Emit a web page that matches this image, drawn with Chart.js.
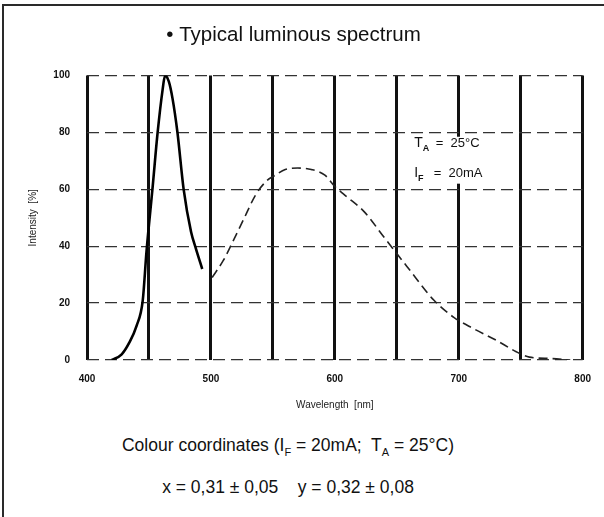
<!DOCTYPE html>
<html>
<head>
<meta charset="utf-8">
<script src="https://cdn.jsdelivr.net/npm/chart.js@4.4.1/dist/chart.umd.min.js"></script>
<style>
  body { margin: 0; background: #fff; font-family: "Liberation Sans", Arial, sans-serif; }
  #page { position: relative; width: 604px; height: 517px; overflow: hidden; background: #fff; }
  #frame { position: absolute; left: 2px; top: 4px; right: -4px; bottom: -4px;
           border-top: 2px solid #2a2a2a; border-left: 2px solid #2a2a2a; }
  #wrap { position: absolute; left: 0; top: 0; width: 604px; height: 420px; }
  .note { position: absolute; left: 0; width: 576px; text-align: center; color: #111;
          font-size: 17.5px; line-height: 20px; white-space: pre; }
  .note sub { font-size: 11px; line-height: 0; }
</style>
</head>
<body>
<div id="page">
  <div id="frame"></div>
  <div id="wrap"><canvas id="spectrumChart"></canvas></div>
  <div class="note" style="top:435px">Colour coordinates (I<sub>F</sub> = 20mA;  T<sub>A</sub> = 25°C)</div>
  <div class="note" style="top:477px">x = 0,31 ± 0,05    y = 0,32 ± 0,08</div>
</div>
<script>
// blue chip peak (solid part)
const blueWavelength = [420, 428, 434, 440, 445, 448, 453, 457, 461, 463, 466, 469, 473, 478, 484, 488, 493];
const blueIntensity  = [0, 2, 6, 12, 21, 38, 61, 80, 95, 100, 98, 92, 80, 60, 45, 39, 32];
// phosphor emission (dashed part)
const phosWavelength = [501, 510, 517, 527, 536, 545, 552, 560, 570, 581, 592, 600, 608, 624, 640, 658, 680, 696, 712, 730, 746, 757, 775, 790];
const phosIntensity  = [29, 35, 41, 50, 58, 63, 65, 67, 67.5, 67, 65, 61, 58, 52, 43, 33, 21, 15, 11, 7, 3, 1, 0.5, 0];
const xTicks = [400, 500, 600, 700, 800];
const yTicks = [0, 20, 40, 60, 80, 100];

const toPoints = (xs, ys) => xs.map((x, i) => ({ x: x, y: ys[i] }));

const conditionsBox = {
  id: 'conditionsBox',
  afterDraw(chart) {
    const { ctx, scales: { x, y } } = chart;
    const left = x.getPixelForValue(658), right = x.getPixelForValue(732);
    const top = y.getPixelForValue(78.5), bottom = y.getPixelForValue(62);
    ctx.save();
    ctx.fillStyle = '#fff';
    ctx.fillRect(left, top, right - left, bottom - top);
    ctx.fillStyle = '#111';
    const tx = x.getPixelForValue(664);
    const rows = [['T', 'A', ' =  25°C', 75], ['I', 'F', '  =  20mA', 64.5]];
    rows.forEach(([main, sub, rest, v]) => {
      const by = y.getPixelForValue(v);
      ctx.font = '14px "Liberation Sans", Arial, sans-serif';
      ctx.fillText(main, tx, by);
      const w = ctx.measureText(main).width;
      ctx.font = 'bold 9px "Liberation Sans", Arial, sans-serif';
      ctx.fillText(sub, tx + w, by + 4);
      const ws = ctx.measureText(sub).width;
      ctx.font = '13px "Liberation Sans", Arial, sans-serif';
      ctx.fillText(rest, tx + w + ws + 3, by);
    });
    ctx.restore();
  }
};

const ctx = document.getElementById('spectrumChart').getContext('2d');
new Chart(ctx, {
  type: 'line',
  data: {
    datasets: [{
      label: 'Blue peak',
      data: toPoints(blueWavelength, blueIntensity),
      borderColor: '#000',
      borderWidth: 2.6,
      pointRadius: 0,
      tension: 0.4,
      cubicInterpolationMode: 'monotone'
    }, {
      label: 'Phosphor',
      data: toPoints(phosWavelength, phosIntensity),
      borderColor: '#222',
      borderWidth: 1.6,
      borderDash: [9, 5],
      pointRadius: 0,
      tension: 0.4,
      cubicInterpolationMode: 'monotone'
    }]
  },
  options: {
    responsive: true,
    maintainAspectRatio: false,
    animation: false,
    layout: { padding: { left: 0, right: 17, top: 0, bottom: 0 } },
    scales: {
      x: {
        type: 'linear',
        min: 400,
        max: 800,
        afterFit: (s) => { s.height = 60; },
        ticks: {
          stepSize: 50,
          autoSkip: false,
          maxRotation: 0,
          padding: 13,
          color: '#111',
          font: { family: '"Liberation Sans", Arial, sans-serif', size: 10, weight: 'bold' },
          callback: (v) => xTicks.includes(v) ? String(v) : ''
        },
        grid: { color: '#111', lineWidth: 3, drawTicks: false },
        border: { display: false },
        title: {
          display: true,
          text: 'Wavelength  [nm]',
          color: '#222',
          font: { family: '"Liberation Sans", Arial, sans-serif', size: 10 },
          padding: { top: 4, bottom: 9 }
        }
      },
      y: {
        min: 0,
        max: 100,
        afterFit: (s) => { s.width = 87; },
        afterBuildTicks: (s) => { s.ticks = yTicks.map(v => ({ value: v })); },
        ticks: {
          padding: 17,
          color: '#111',
          font: { family: '"Liberation Sans", Arial, sans-serif', size: 10, weight: 'bold' }
        },
        grid: { color: '#333', lineWidth: 1.3, drawTicks: false },
        border: { display: false, dash: [12, 6] },
        title: {
          display: true,
          text: 'Intensity  [%]',
          color: '#222',
          font: { family: '"Liberation Sans", Arial, sans-serif', size: 10 },
          padding: { top: 27, bottom: 4 }
        }
      }
    },
    plugins: {
      legend: { display: false },
      tooltip: { enabled: false },
      title: {
        display: true,
        text: '• Typical luminous spectrum',
        color: '#111',
        font: { family: '"Liberation Sans", Arial, sans-serif', size: 20.5, weight: 'normal' },
        padding: { top: 23, bottom: 28 }
      }
    }
  },
  plugins: [conditionsBox]
});
</script>
</body>
</html>
